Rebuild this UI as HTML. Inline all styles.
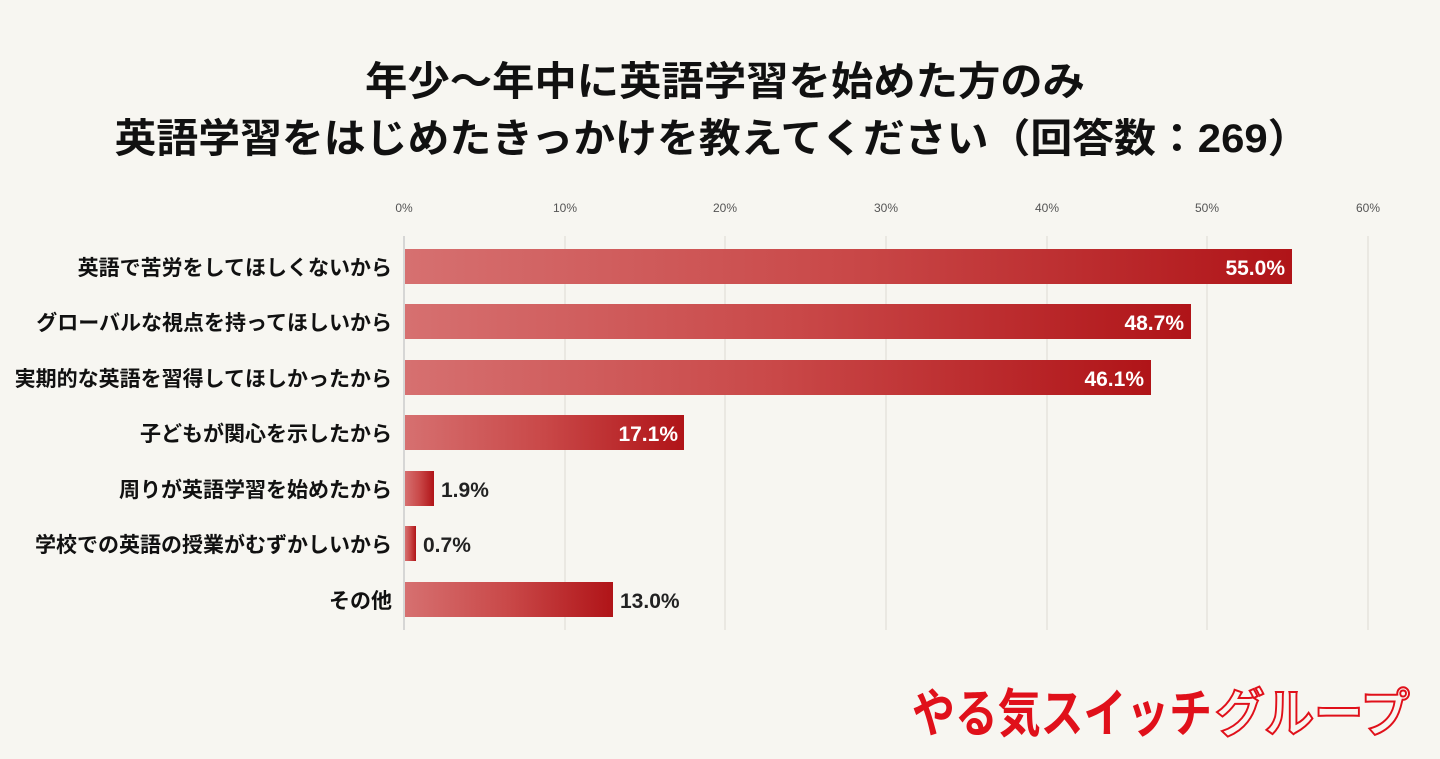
<!DOCTYPE html>
<html><head><meta charset="utf-8"><style>
html,body{margin:0;padding:0;background:#f7f6f1;}
svg{display:block}
</style></head><body>
<svg width="1440" height="759" xmlns="http://www.w3.org/2000/svg" font-family="'Liberation Sans','Noto Sans CJK JP',sans-serif">
<defs>
<linearGradient id="g" x1="0" x2="1" y1="0" y2="0">
<stop offset="0" stop-color="#d67070"/><stop offset="0.5" stop-color="#c94848"/><stop offset="1" stop-color="#b01418"/>
</linearGradient>
</defs>
<rect width="1440" height="759" fill="#f7f6f1"/>
<text x="725" y="95" text-anchor="middle" font-size="40" font-weight="bold" fill="#111" textLength="720" lengthAdjust="spacingAndGlyphs">年少～年中に英語学習を始めた方のみ</text>
<text x="712" y="152" text-anchor="middle" font-size="40" font-weight="bold" fill="#111" textLength="1195" lengthAdjust="spacingAndGlyphs">英語学習をはじめたきっかけを教えてください（回答数：269）</text>
<g font-size="12" fill="#555" text-anchor="middle">
<text x="404" y="212">0%</text><text x="565" y="212">10%</text><text x="725" y="212">20%</text><text x="886" y="212">30%</text><text x="1047" y="212">40%</text><text x="1207" y="212">50%</text><text x="1368" y="212">60%</text>
</g>
<g stroke="#e6e4de" stroke-width="1.5">
<line x1="565" y1="236" x2="565" y2="630"/><line x1="725" y1="236" x2="725" y2="630"/><line x1="886" y1="236" x2="886" y2="630"/><line x1="1047" y1="236" x2="1047" y2="630"/><line x1="1207" y1="236" x2="1207" y2="630"/><line x1="1368" y1="236" x2="1368" y2="630"/>
<line x1="404" y1="236" x2="404" y2="630" stroke="#ccc"/>
</g>
<g>
<rect x="405" y="249" width="887" height="35" fill="url(#g)"/>
<rect x="405" y="304" width="786" height="35" fill="url(#g)"/>
<rect x="405" y="360" width="746" height="35" fill="url(#g)"/>
<rect x="405" y="415" width="279" height="35" fill="url(#g)"/>
<rect x="405" y="471" width="29" height="35" fill="url(#g)"/>
<rect x="405" y="526" width="11" height="35" fill="url(#g)"/>
<rect x="405" y="582" width="208" height="35" fill="url(#g)"/>
</g>
<g font-size="21" font-weight="bold" fill="#fff" text-anchor="end">
<text x="1285" y="275">55.0%</text><text x="1184" y="330">48.7%</text><text x="1144" y="386">46.1%</text><text x="678" y="441">17.1%</text>
</g>
<g font-size="21" font-weight="bold" fill="#222">
<text x="441" y="497">1.9%</text><text x="423" y="552">0.7%</text><text x="620" y="608">13.0%</text>
</g>
<g font-size="21" font-weight="bold" fill="#111" text-anchor="end">
<text x="392" y="275">英語で苦労をしてほしくないから</text>
<text x="392" y="330">グローバルな視点を持ってほしいから</text>
<text x="392" y="386">実期的な英語を習得してほしかったから</text>
<text x="392" y="441">子どもが関心を示したから</text>
<text x="392" y="497">周りが英語学習を始めたから</text>
<text x="392" y="552">学校での英語の授業がむずかしいから</text>
<text x="392" y="608">その他</text>
</g>
<text x="912" y="732" font-size="52" font-weight="bold" fill="#e0101a" textLength="300" lengthAdjust="spacingAndGlyphs">やる気スイッチ</text>
<text x="1215" y="732" font-size="52" font-weight="bold" fill="#f7f6f1" stroke="#e0101a" stroke-width="2" textLength="195" lengthAdjust="spacingAndGlyphs">グループ</text>
</svg>
</body></html>
